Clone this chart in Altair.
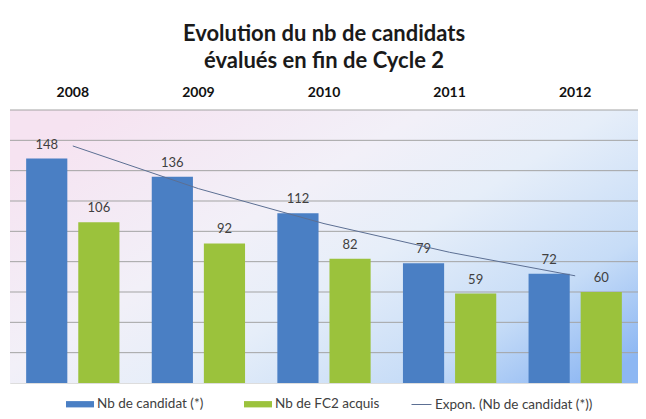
import altair as alt
import pandas as pd

# ---- data ----
years = [2008, 2009, 2010, 2011, 2012]
series = ["Nb de candidat (*)", "Nb de FC2 acquis"]
trend_name = "Expon. (Nb de candidat (*))"
candidats = [148, 136, 112, 79, 72]
fc2_acquis = [106, 92, 82, 59, 60]
grid_values = [20, 40, 60, 80, 100, 120, 140, 160, 180]

rows = []
for i, y in enumerate(years):
    rows.append({"annee": y, "serie": series[0], "valeur": candidats[i]})
    rows.append({"annee": y, "serie": series[1], "valeur": fc2_acquis[i]})
df = pd.DataFrame(rows)

W, H = 628, 273
BLUE, GREEN = "#4a7fc4", "#9bc23c"
FONT = "Lato"

x_scale = alt.Scale(paddingInner=0, paddingOuter=0)
x_axis = alt.Axis(orient="top", title=None, labelAngle=0, labelFontWeight="bold",
                  labelFontSize=14, labelFont=FONT, labelColor="#111111",
                  ticks=False, domain=False, labelPadding=11, grid=False)
off_scale = alt.Scale(paddingInner=0.21, paddingOuter=0.31)
y_scale = alt.Scale(domain=[0, 180], nice=False, zero=True)

bg = alt.Chart(pd.DataFrame({"bg": [0]})).mark_rect(
    color=alt.Gradient(
        gradient="linear",
        x1=0, y1=0.2, x2=1, y2=0.9,
        stops=[
            alt.GradientStop(offset=0, color="#f6e3f1"),
            alt.GradientStop(offset=0.35, color="#f2f0f8"),
            alt.GradientStop(offset=0.55, color="#e6eef9"),
            alt.GradientStop(offset=0.8, color="#c6dcf7"),
            alt.GradientStop(offset=1, color="#8db7f3"),
        ],
    )
).encode(x=alt.value(0), x2=alt.value(W), y=alt.value(0), y2=alt.value(H))

grid = alt.Chart(pd.DataFrame({"g": grid_values})).mark_rule(
    color="#a3a3a3", strokeWidth=1
).encode(y=alt.Y("g:Q", scale=y_scale, axis=None))

bars = alt.Chart(df).mark_bar().encode(
    x=alt.X("annee:O", scale=x_scale, axis=x_axis),
    xOffset=alt.XOffset("serie:N", sort=series, scale=off_scale),
    y=alt.Y("valeur:Q", scale=y_scale, axis=None),
    color=alt.Color(
        "serie:N", sort=series,
        scale=alt.Scale(domain=series, range=[BLUE, GREEN]),
        legend=alt.Legend(orient="none", legendX=63, legendY=287, direction="horizontal",
                          title=None, symbolType="M-2,-0.45H2V0.45H-2Z", symbolSize=196,
                          symbolStrokeWidth=0, labelFontSize=13.5, labelFont=FONT,
                          labelColor="#404040", labelOffset=10, columnPadding=40),
    ),
)

labels = alt.Chart(df).mark_text(
    dy=-10, fontSize=13, font=FONT, color="#404040", baseline="alphabetic"
).encode(
    x=alt.X("annee:O", scale=x_scale, axis=x_axis),
    xOffset=alt.XOffset("serie:N", sort=series, scale=off_scale),
    y=alt.Y("valeur:Q", scale=y_scale, axis=None),
    text=alt.Text("valeur:Q"),
)

# Excel-style exponential trendline: least squares on ln(y), computed by Vega-Lite
trend = alt.Chart(df).transform_filter(
    alt.datum.serie == series[0]
).transform_calculate(
    lny="log(datum.valeur)"
).transform_joinaggregate(
    mx="mean(annee)", my="mean(lny)"
).transform_calculate(
    dx="datum.annee - datum.mx",
).transform_calculate(
    pxy="datum.dx * (datum.lny - datum.my)", pxx="datum.dx * datum.dx"
).transform_joinaggregate(
    sxy="sum(pxy)", sxx="sum(pxx)"
).transform_calculate(
    fit="exp(datum.my + datum.sxy / datum.sxx * datum.dx)",
    trend=f'"{trend_name}"',
).mark_line(strokeWidth=1).encode(
    x=alt.X("annee:O", scale=x_scale, axis=x_axis),
    y=alt.Y("fit:Q", scale=y_scale, axis=None),
    stroke=alt.Stroke(
        "trend:N",
        scale=alt.Scale(domain=[trend_name], range=["#5c6f93"]),
        legend=alt.Legend(orient="none", legendX=401, legendY=284, title=None,
                          symbolType="stroke", symbolSize=400, symbolStrokeWidth=1,
                          symbolStrokeColor="#7a8aa8",
                          labelFontSize=13.5, labelFont=FONT, labelColor="#404040",
                          labelOffset=3),
    ),
)

chart = alt.layer(bg, grid, bars, labels, trend).properties(
    width=W, height=H,
    autosize="none",
    padding={"left": 2, "top": 102, "right": 0, "bottom": 28},
    title=alt.TitleParams(
        text=["Evolution du nb de candidats", "évalués en fin de Cycle 2"],
        fontSize=22, font=FONT, fontWeight="bold", color="#1a1a1a",
        anchor="middle", offset=12, lineHeight=27,
    ),
).configure_view(stroke=None).configure(background="white")

chart.save("out.html", embed_options={"renderer": "svg", "actions": False})
